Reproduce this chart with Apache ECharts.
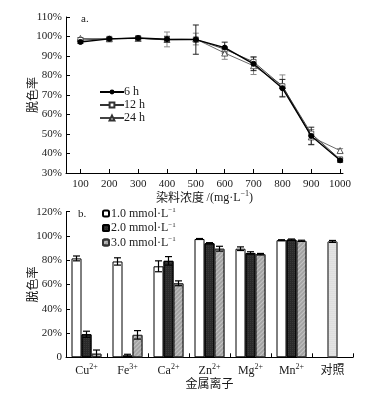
<!DOCTYPE html>
<html><head><meta charset="utf-8">
<script src="https://cdn.jsdelivr.net/npm/echarts@6/dist/echarts.min.js"></script>
<style>html,body{margin:0;padding:0;background:#fff}#c{width:381px;height:399px}</style>
</head><body><div id="c"></div>
<script>
// ---- Chart a: decolorization vs dye concentration ----
const concentrations = [100,200,300,400,500,600,700,800,900,1000];
const h6  = [97.2,98.8,99.2,98.6,98.4,94.3,86.0,73.5,49.0,36.5];
const h12 = [98.2,98.8,99.2,98.2,98.5,93.5,87.0,74.5,50.2,37.0];
const h24 = [99.0,98.8,99.0,98.5,98.7,91.5,85.0,74.8,48.5,41.5];
const h6Err  = [0.8,0.5,0.8,1.5,7.5,2.8,3.5,4.5,4.5,1.0];
const h24Err = [0.5,0.5,0.5,3.8,3.0,3.2,4.5,5.5,3.8,1.0];
const seriesNamesA = ['6 h','12 h','24 h'];

// ---- Chart b: metal ions ----
const ions    = ['Cu','Fe','Ca','Zn','Mg','Mn','对照'];
const charges = ['2+','3+','2+','2+','2+','2+',''];
const conc10 = [81.5,79.0,75.0,97.5,89.5,96.5,'-'];
const conc20 = [19.0,1.5,79.5,94.0,86.0,97.0,'-'];
const conc30 = [3.0,18.5,61.0,89.5,85.0,96.0,'-'];
const control = ['-','-','-','-','-','-',95.5];
const err10 = [2.0,3.0,4.5,0.4,1.5,0.4,0];
const err20 = [2.5,1.0,3.5,0.5,1.0,0.5,0];
const err30 = [3.0,3.5,2.0,2.0,0.6,0.5,0];
const errCtl = [0,0,0,0,0,0,0.8];
const seriesNamesB = ['1.0 mmol·L{s|−1}','2.0 mmol·L{s|−1}','3.0 mmol·L{s|−1}'];

const serif = '"Liberation Serif","DejaVu Serif",serif';
const cjk = '"Noto Sans CJK SC","Liberation Serif",serif';
const txt = '#1a1a1a';

function errA(vals, errs){
  return concentrations.map((c,i)=>[c, vals[i]-errs[i], vals[i]+errs[i]]);
}
function errRenderLine(color){
  return function(params, api){
    const lo = api.coord([api.value(0), api.value(1)]);
    const hi = api.coord([api.value(0), api.value(2)]);
    const w = 3;
    const st = {stroke: color, lineWidth: 1};
    return {type:'group', children:[
      {type:'line', shape:{x1:lo[0],y1:lo[1],x2:hi[0],y2:hi[1]}, style:st},
      {type:'line', shape:{x1:lo[0]-w,y1:lo[1],x2:lo[0]+w,y2:lo[1]}, style:st},
      {type:'line', shape:{x1:hi[0]-w,y1:hi[1],x2:hi[0]+w,y2:hi[1]}, style:st}
    ]};
  };
}
const barW = 10;
function errBarB(vals, errs, slot){
  const d = [];
  vals.forEach((v,i)=>{ if(v!=='-' && errs[i]>0) d.push([i, v-errs[i], v+errs[i]]); });
  return {
    type:'custom', xAxisIndex:1, yAxisIndex:1, z:5, silent:true,
    data:d,
    renderItem:function(params, api){
      const lo = api.coord([api.value(0), api.value(1)]);
      const hi = api.coord([api.value(0), api.value(2)]);
      const x = lo[0] + slot*barW;
      const w = 3.5;
      const st = {stroke:'#000', lineWidth:1.2};
      return {type:'group', children:[
        {type:'line', shape:{x1:x,y1:lo[1],x2:x,y2:hi[1]}, style:st},
        {type:'line', shape:{x1:x-w,y1:lo[1],x2:x+w,y2:lo[1]}, style:st},
        {type:'line', shape:{x1:x-w,y1:hi[1],x2:x+w,y2:hi[1]}, style:st}
      ]};
    }
  };
}
const supRich = {
  n:{fontFamily:serif, fontSize:12, color:txt, lineHeight:14},
  s:{fontFamily:serif, fontSize:8, color:txt, padding:[0,0,7,0]},
  c:{fontFamily:cjk, fontSize:12, color:txt}
};

const chart = echarts.init(document.getElementById('c'), null, {renderer:'canvas'});
chart.setOption({
  animation:false,
  backgroundColor:'#fff',
  textStyle:{fontFamily:serif, color:txt},
  grid:[
    {left:66, top:17, width:277, height:156},
    {left:66, top:211.7, width:287, height:145.6}
  ],
  title:[
    {text:'a.', left:76, top:9, textStyle:{fontFamily:serif, fontSize:11, fontWeight:'normal', color:txt}},
    {text:'b.', left:73, top:204, textStyle:{fontFamily:serif, fontSize:11, fontWeight:'normal', color:txt}}
  ],
  legend:[
    {data:seriesNamesA, orient:'vertical', left:94, top:81, itemWidth:24, itemHeight:6, itemGap:1,
     textStyle:{fontFamily:serif, fontSize:12, color:txt, padding:[0,0,0,-5]}},
    {data:seriesNamesB.map(n=>({name:n})), orient:'vertical', left:97, top:202, itemWidth:6, itemHeight:6, itemGap:2,
     formatter:function(n){return n;},
     textStyle:{fontFamily:serif, fontSize:12, color:txt, padding:[0,0,0,-3], rich:{s:{fontFamily:serif,fontSize:7,color:txt,padding:[0,0,6,0]}}}}
  ],
  xAxis:[
    {type:'value', gridIndex:0, min:50, max:1010,
     axisLine:{show:true, lineStyle:{color:'#000', width:1}},
     axisTick:{show:true, inside:true, length:4, customValues:concentrations, lineStyle:{color:'#000'}},
     axisLabel:{customValues:concentrations, formatter:function(v){return String(v);}, fontFamily:serif, fontSize:11, color:txt, margin:6},
     splitLine:{show:false},
     name:'{c|染料浓度 }{n|/(mg·L}{s|−1}{n|)}', nameLocation:'middle', nameGap:17, nameMoveOverlap:false,
     nameTextStyle:{rich:supRich}},
    {type:'category', gridIndex:1, data:ions,
     axisLine:{show:true, lineStyle:{color:'#000', width:1}},
     axisTick:{show:true, inside:true, length:4, lineStyle:{color:'#000'}},
     axisLabel:{margin:6, interval:0, formatter:function(v, i){
        return charges[i] ? '{n|'+v+'}{s|'+charges[i]+'}' : '{c|'+v+'}';
     }, rich:supRich},
     name:'金属离子', nameLocation:'middle', nameGap:20, nameMoveOverlap:false,
     nameTextStyle:{fontFamily:cjk, fontSize:12, color:txt}},
    {type:'category', gridIndex:1, data:ions, show:false}
  ],
  yAxis:[
    {type:'value', gridIndex:0, min:30, max:110, interval:10,
     axisLine:{show:true, lineStyle:{color:'#000', width:1}},
     axisTick:{show:true, inside:true, length:4, lineStyle:{color:'#000'}},
     axisLabel:{formatter:'{value}%', fontFamily:serif, fontSize:11, color:txt, margin:4},
     splitLine:{show:false},
     name:'脱色率', nameLocation:'middle', nameGap:28, nameRotate:90, nameMoveOverlap:false,
     nameTextStyle:{fontFamily:cjk, fontSize:12, color:txt}},
    {type:'value', gridIndex:1, min:0, max:120, interval:20,
     axisLine:{show:true, lineStyle:{color:'#000', width:1}},
     axisTick:{show:true, inside:true, length:4, lineStyle:{color:'#000'}},
     axisLabel:{formatter:function(v){return v===0?'0':v+'%';}, fontFamily:serif, fontSize:11, color:txt, margin:4},
     splitLine:{show:false},
     name:'脱色率', nameLocation:'middle', nameGap:28, nameRotate:90, nameMoveOverlap:false,
     nameTextStyle:{fontFamily:cjk, fontSize:12, color:txt}}
  ],
  series:[
    {type:'custom', xAxisIndex:0, yAxisIndex:0, data:errA(h24,h24Err), renderItem:errRenderLine('#8a8a8a'), silent:true, z:1},
    {type:'custom', xAxisIndex:0, yAxisIndex:0, data:errA(h6,h6Err), renderItem:errRenderLine('#222'), silent:true, z:1},
    {name:seriesNamesA[2], type:'line', xAxisIndex:0, yAxisIndex:0, data:concentrations.map((c,i)=>[c,h24[i]]),
     symbol:'triangle', symbolSize:6, itemStyle:{color:'#fff', borderColor:'#333', borderWidth:0.8},
     lineStyle:{color:'#444', width:0.8}, z:3},
    {name:seriesNamesA[1], type:'line', xAxisIndex:0, yAxisIndex:0, data:concentrations.map((c,i)=>[c,h12[i]]),
     symbol:'rect', symbolSize:5, itemStyle:{color:'#fff', borderColor:'#333', borderWidth:0.8},
     lineStyle:{color:'#333', width:0.9}, z:4},
    {name:seriesNamesA[0], type:'line', xAxisIndex:0, yAxisIndex:0, data:concentrations.map((c,i)=>[c,h6[i]]),
     symbol:'circle', symbolSize:5, itemStyle:{color:'#000', borderColor:'#000'},
     lineStyle:{color:'#000', width:1.4}, z:5},

    {name:seriesNamesB[0], type:'bar', xAxisIndex:1, yAxisIndex:1, data:conc10, barWidth:barW, barGap:'0%',
     itemStyle:{color:'#ffffff', borderColor:'#000', borderWidth:1}},
    {name:seriesNamesB[1], type:'bar', xAxisIndex:1, yAxisIndex:1, data:conc20, barWidth:barW, barGap:'0%',
     itemStyle:{color:'#2a2a2a', borderColor:'#000', borderWidth:1,
       decal:{symbol:'rect', symbolSize:0.5, color:'rgba(255,255,255,0.28)', dashArrayX:[1,1], dashArrayY:[1,1], rotation:0}}},
    {name:seriesNamesB[2], type:'bar', xAxisIndex:1, yAxisIndex:1, data:conc30, barWidth:barW, barGap:'0%',
     itemStyle:{color:'#a3a3a3', borderColor:'#333', borderWidth:1,
       decal:{symbol:'rect', symbolSize:1, color:'rgba(255,255,255,0.35)', dashArrayX:[1,0], dashArrayY:[1,2], rotation:-Math.PI/4}}},
    {name:'对照', type:'bar', xAxisIndex:2, yAxisIndex:1, data:control, barWidth:barW,
     itemStyle:{color:'#f2f2f2', borderColor:'#555', borderWidth:1,
       decal:{symbol:'circle', symbolSize:0.6, color:'rgba(120,120,120,0.6)', dashArrayX:[2,0], dashArrayY:[2,0]}}},
    errBarB(conc10, err10, -1),
    errBarB(conc20, err20, 0),
    errBarB(conc30, err30, 1),
    errBarB(control, errCtl, 0)
  ]
});
</script>
</body></html>
